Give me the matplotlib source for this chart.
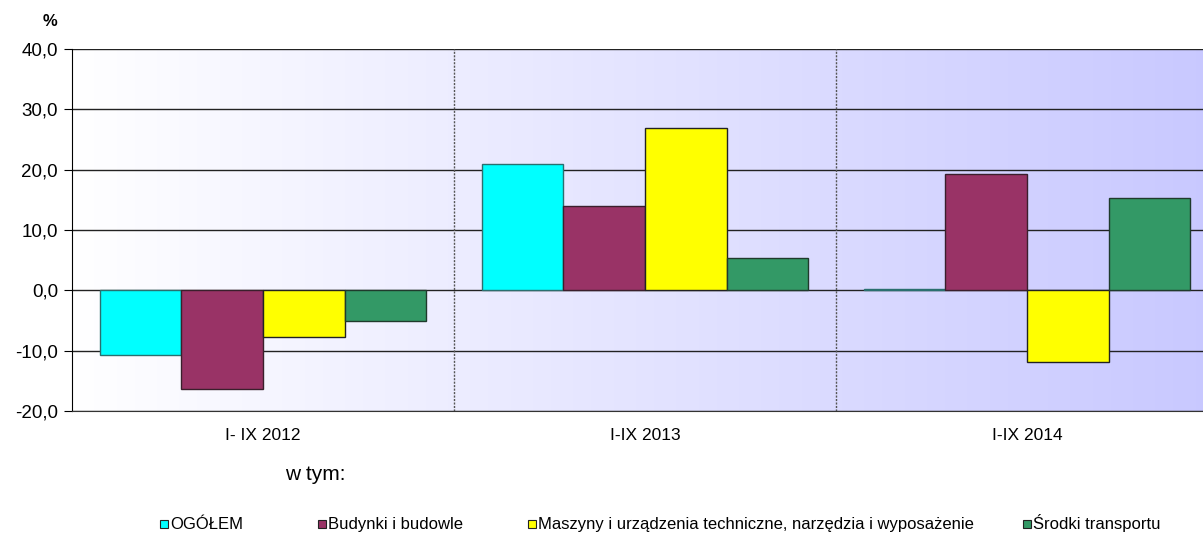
import numpy as np
import matplotlib
matplotlib.use("Agg")
import matplotlib.pyplot as plt
from matplotlib.colors import LinearSegmentedColormap
from matplotlib.patches import Rectangle

plt.rcParams['font.family'] = ['Liberation Sans', 'DejaVu Sans']

categories = ["I- IX 2012", "I-IX 2013", "I-IX 2014"]
series_names = ["OGÓŁEM", "Budynki i budowle",
                "Maszyny i urządzenia techniczne, narzędzia i wyposażenie",
                "Środki transportu"]
ogolem = [-10.7, 21.0, 0.3]
budynki = [-16.4, 14.0, 19.3]
maszyny = [-7.8, 26.9, -11.9]
srodki = [-5.0, 5.3, 15.3]
yticks = [-20, -10, 0, 10, 20, 30, 40]
ytick_labels = ["-20,0", "-10,0", "0,0", "10,0", "20,0", "30,0", "40,0"]

colors = ["#00FFFF", "#993366", "#FFFF00", "#339966"]
edge_colors = ["#2a6f6f", "#3a1f2c", "#222222", "#1f3a2c"]

W, H = 1203, 534
fig = plt.figure(figsize=(W / 100, H / 100), dpi=100)
left, right, top, bottom = 72, 1218, 49, 411
ax = fig.add_axes([left / W, 1 - bottom / H, (right - left) / W, (bottom - top) / H])

ax.set_xlim(0, 3)
ax.set_ylim(-20, 40)

# gradient background
cmap = LinearSegmentedColormap.from_list("bg", ["#FFFFFF", "#C8C8FF"])
grad = np.linspace(0, 1, 256).reshape(1, -1)
ax.imshow(grad, extent=[0, 3, -20, 40], aspect="auto", cmap=cmap, zorder=0)

# grid
for yv in yticks:
    ax.axhline(yv, color="#222222", lw=1.0, zorder=1)
for xv in [1, 2]:
    ax.axvline(xv, color="#555555", lw=1.0, ls=(0, (1.5, 1)), zorder=1)

series = [ogolem, budynki, maszyny, srodki]
bw = 0.2134
x = np.arange(len(categories)) + 0.5
for i, (vals, c, ec) in enumerate(zip(series, colors, edge_colors)):
    offs = (i - 1.5) * bw
    ax.bar(x + offs, vals, width=bw, color=c, edgecolor=ec, linewidth=1.0,
           label=series_names[i], zorder=3)

ax.set_yticks(yticks)
ax.set_yticklabels(ytick_labels, fontsize=13.5)
ax.tick_params(axis="y", length=6, direction="out", pad=4, color="black")
ax.set_xticks(x)
ax.set_xticklabels(categories, fontsize=12.5)
ax.tick_params(axis="x", length=0, pad=12)

for s in ["top", "right"]:
    ax.spines[s].set_visible(False)
ax.spines["left"].set_color("black")
ax.spines["bottom"].set_color("#333333")

fig.text(50 / W, 1 - 22 / H, "%", fontsize=12, fontweight="bold", ha="center", va="center")
fig.text(315 / W, 1 - 474 / H, "w tym:", fontsize=15, ha="center", va="center")

# legend entries placed like the original
leg_x = [160, 318, 528, 1023]
sq = 8
base_y = 528
for name, c, lx in zip(series_names, colors, leg_x):
    fig.patches.append(Rectangle((lx / W, 1 - (base_y) / H), sq / W, sq / H,
                                 transform=fig.transFigure, facecolor=c,
                                 edgecolor="#222222", linewidth=0.8))
    fig.text((lx + sq + 2) / W, 1 - (base_y + 1) / H, name, fontsize=12,
             ha="left", va="baseline")

fig.savefig("out.png", dpi=100)
